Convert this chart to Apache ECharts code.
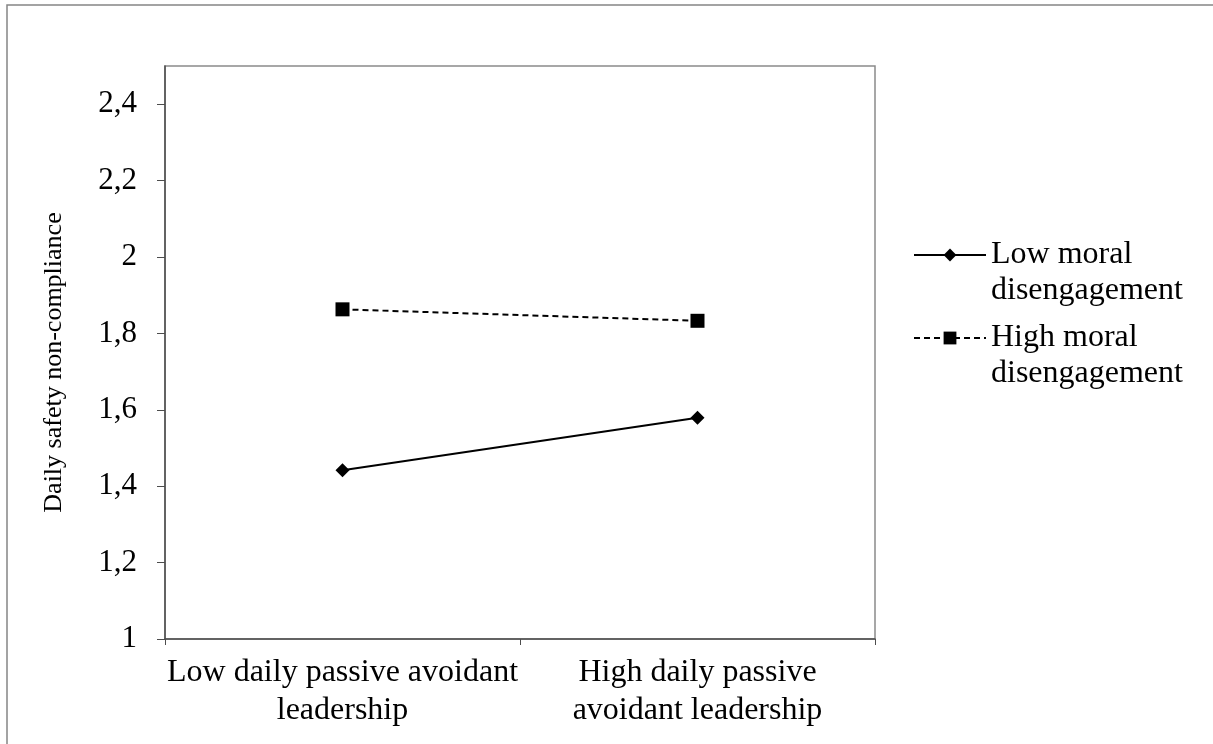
<!DOCTYPE html>
<html>
<head>
<meta charset="utf-8">
<script src="https://cdn.jsdelivr.net/npm/echarts@6/dist/echarts.min.js"></script>
<style>
  html, body { margin: 0; padding: 0; background: #fff; }
  #chart { width: 1213px; height: 744px; }
</style>
</head>
<body>
<div id="chart"></div>
<script>
var categories = ['Low daily passive avoidant\nleadership', 'High daily passive\navoidant leadership'];
var lowMoral = [1.442, 1.579];
var highMoral = [1.863, 1.833];
var seriesNames = ['Low moral\ndisengagement', 'High moral\ndisengagement'];

var font = 'Liberation Serif';
var chart = echarts.init(document.getElementById('chart'));

// legend text gets a leading empty line so the icon sits on the first text line
function legendFor(name, top) {
    return {
        orient: 'vertical',
        left: 908,
        top: top,
        itemWidth: 72,
        itemHeight: 16,
        data: [name],
        formatter: function (n) { return '\n' + n; },
        textStyle: {
            fontFamily: font,
            fontSize: 32,
            color: '#000',
            lineHeight: 36
        }
    };
}

var option = {
    backgroundColor: '#fff',
    animation: false,
    graphic: [{
        type: 'rect',
        shape: { x: 7, y: 5, width: 1400, height: 900 },
        style: { fill: 'none', stroke: '#858585', lineWidth: 1.5 },
        silent: true
    }],
    grid: {
        left: 165,
        top: 66,
        right: 338,
        bottom: 105,
        show: true,
        borderColor: '#8a8a8a',
        borderWidth: 1.5
    },
    legend: [
        legendFor(seriesNames[0], 255 - 54 - 5),
        legendFor(seriesNames[1], 338 - 54 - 5)
    ],
    xAxis: {
        type: 'category',
        data: categories,
        boundaryGap: true,
        axisLine: { lineStyle: { color: '#4d4d4d', width: 1.5 } },
        axisTick: { show: true, length: 6, lineStyle: { color: '#4d4d4d' } },
        axisLabel: {
            interval: 0,
            hideOverlap: false,
            fontFamily: font,
            fontSize: 32,
            color: '#000',
            lineHeight: 38,
            margin: 15
        }
    },
    yAxis: {
        type: 'value',
        min: 1,
        max: 2.5,
        interval: 0.2,
        name: 'Daily safety non-compliance',
        nameLocation: 'middle',
        nameGap: 98,
        nameTextStyle: { fontFamily: font, fontSize: 26, color: '#000', padding: [0, 20, 0, 0] },
        splitLine: { show: false },
        axisLine: { show: true, lineStyle: { color: '#4d4d4d', width: 1.5 } },
        axisTick: { show: true, length: 8, lineStyle: { color: '#4d4d4d' } },
        axisLabel: {
            fontFamily: font,
            fontSize: 31,
            color: '#000',
            margin: 28,
            showMaxLabel: false,
            formatter: function (v) {
                if (Math.abs(v - 2.5) < 1e-6) return '';
                return String(Math.round(v * 10) / 10).replace('.', ',');
            }
        }
    },
    series: [
        {
            name: seriesNames[0],
            type: 'line',
            data: lowMoral,
            symbol: 'diamond',
            symbolSize: 14,
            itemStyle: { color: '#000' },
            lineStyle: { color: '#000', width: 2, type: 'solid' }
        },
        {
            name: seriesNames[1],
            type: 'line',
            data: highMoral,
            symbol: 'rect',
            symbolSize: 14,
            itemStyle: { color: '#000' },
            lineStyle: { color: '#000', width: 2, type: [6, 4] }
        }
    ]
};

chart.setOption(option);
</script>
</body>
</html>
